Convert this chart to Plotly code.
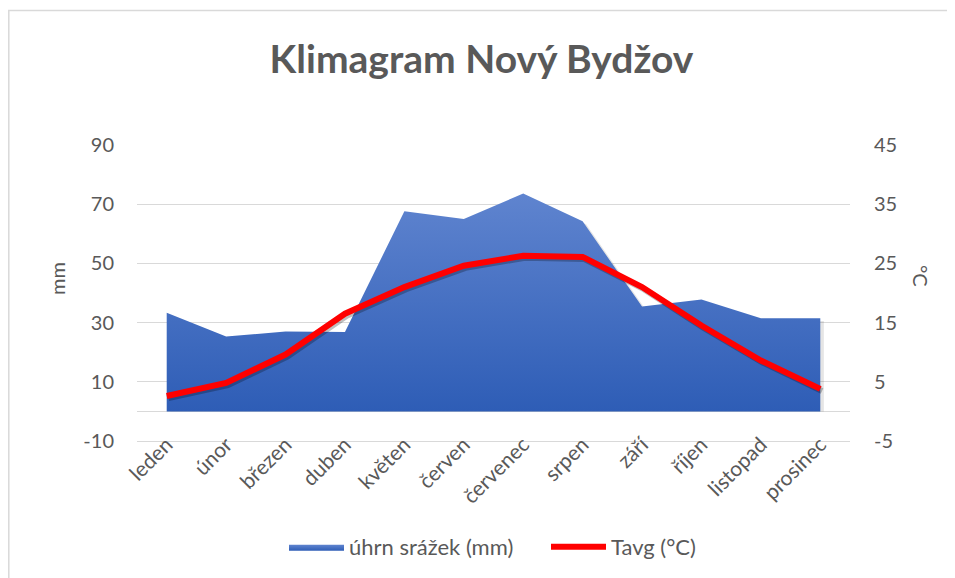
import plotly.graph_objects as go

months = ["leden", "únor", "březen", "duben", "květen", "červen", "červenec",
          "srpen", "září", "říjen", "listopad", "prosinec"]
precip_mm = [33.3, 25.3, 27.0, 26.8, 67.6, 65.0, 73.6, 64.2, 35.4, 37.8, 31.5, 31.5]
tavg_c = [2.6, 4.8, 9.6, 16.5, 21.0, 24.6, 26.3, 26.1, 21.0, 14.5, 8.6, 3.8]

left_ticks = [-10, 10, 30, 50, 70, 90]
left_labels = ["-10", "10", "30", "50", "70", "90"]
right_ticks = [-5, 5, 15, 25, 35, 45]
right_labels = ["-5", "5", "15", "25", "35", "45"]

FONT = "Lato"
GREY = "#595959"

OFF = 8  # page body margin
W, H = 955 - OFF, 578 - OFF
L, T = 137 - OFF, 145 - OFF
R = W - (850 - OFF)
B = H - (441 - OFF)
pw, ph = W - L - R, H - T - B

def px_x(px):
    return (px - OFF - L) / pw

def px_y(py):
    return (H - B - (py - OFF)) / ph

xs = list(range(len(months)))

fig = go.Figure()

# shadow for area
fig.add_trace(go.Scatter(
    x=[x + 0.06 for x in xs], y=[v - 1.0 for v in precip_mm], mode="lines",
    line=dict(width=0), fill="tozeroy", fillcolor="rgba(0,0,0,0.10)",
    hoverinfo="skip", showlegend=False))

fig.add_trace(go.Scatter(
    x=xs, y=precip_mm, mode="lines", name="úhrn srážek (mm)",
    line=dict(width=0, color="#3a66c0"), fill="tozeroy",
    fillgradient=dict(type="vertical",
                      colorscale=[[0, "#2e5db6"], [1, "#5f84cf"]]),
    fillcolor="#3d68c2"))

# shadow for line
fig.add_trace(go.Scatter(
    x=[x + 0.03 for x in xs], y=[v - 0.35 for v in tavg_c], mode="lines",
    line=dict(width=6, color="rgba(0,0,0,0.25)"), yaxis="y2",
    hoverinfo="skip", showlegend=False))

fig.add_trace(go.Scatter(
    x=xs, y=tavg_c, mode="lines", name="Tavg (°C)",
    line=dict(width=6, color="#ff0000"), yaxis="y2"))

fig.update_layout(
    width=W, height=H,
    margin=dict(l=L, r=R, t=T, b=B, autoexpand=False),
    paper_bgcolor="white", plot_bgcolor="white",
    font=dict(family=FONT, color=GREY, size=20),
    title=dict(text="<b>Klimagram Nový Bydžov</b>", x=0.5, xanchor="center",
               y=1 - (59 - OFF) / H, yanchor="middle",
               font=dict(family=FONT, size=39, color=GREY)),
    xaxis=dict(tickmode="array", tickvals=xs, ticktext=months,
               range=[-0.5, len(months) - 0.5], tickangle=-45,
               showgrid=False, zeroline=False, automargin=False,
               showline=True, linecolor="#d9d9d9", linewidth=1.3,
               ticks="", ticklabelstandoff=-18,
               tickfont=dict(size=21, color=GREY)),
    yaxis=dict(range=[-10, 90], tickvals=left_ticks, ticktext=left_labels,
               showgrid=True, automargin=False,
               gridcolor="#d9d9d9", gridwidth=1.3, zeroline=True,
               zerolinecolor="#d9d9d9", zerolinewidth=1.3,
               ticks="", ticklabelstandoff=22, tickfont=dict(size=20, color=GREY)),
    yaxis2=dict(range=[-5, 45], tickvals=right_ticks, ticktext=right_labels,
                overlaying="y", side="right", automargin=False,
                showgrid=False, zeroline=False, ticks="", ticklabelstandoff=23,
                tickfont=dict(size=20, color=GREY)),
    legend=dict(orientation="h", x=px_x(284), xanchor="left", y=px_y(547),
                yanchor="middle", font=dict(size=22, color=GREY),
                itemwidth=55, entrywidth=192, entrywidthmode="pixels",
                bgcolor="rgba(0,0,0,0)"),
    annotations=[
        dict(text="mm", xref="paper", yref="paper", x=px_x(57), y=px_y(279),
             xanchor="center", yanchor="middle",
             showarrow=False, textangle=-90, font=dict(size=20, color=GREY)),
        dict(text="°C", xref="paper", yref="paper", x=px_x(921), y=px_y(276),
             xanchor="center", yanchor="middle",
             showarrow=False, textangle=90, font=dict(size=20, color=GREY)),
    ],
    shapes=[
        dict(type="rect", xref="paper", yref="paper",
             x0=px_x(8.8), x1=px_x(1000), y0=px_y(620), y1=px_y(10.5),
             line=dict(color="#d9d9d9", width=1.5), fillcolor="rgba(0,0,0,0)",
             layer="below"),
    ],
)

fig.write_html("out.html")
